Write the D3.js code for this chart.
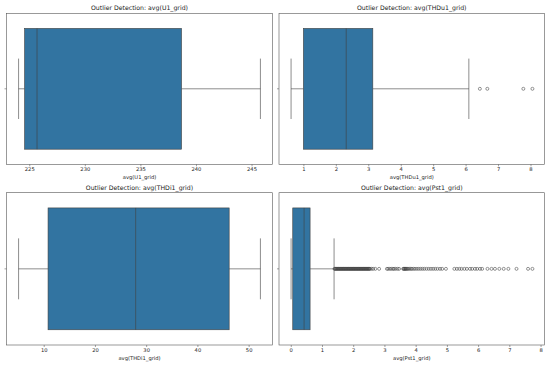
<!DOCTYPE html>
<html>
<head>
<meta charset="utf-8">
<script src="https://cdn.jsdelivr.net/npm/d3@7"></script>
<style>
  body { margin: 0; background: #fff; }
  text { font-family: "DejaVu Sans", sans-serif; fill: #222; }
</style>
</head>
<body>
<div id="chart"></div>
<script>
// box stats: [lowWhisker, q1, median, q3, highWhisker]
const titles = ["avg(U1_grid)", "avg(THDu1_grid)", "avg(THDi1_grid)", "avg(Pst1_grid)"];

const u1Stats = [224.04, 224.58, 225.7, 238.7, 245.8];
const thdu1Stats = [0.62, 1.0, 2.32, 3.14, 6.1];
const thdi1Stats = [5.1, 10.85, 27.95, 46.2, 52.3];
const pst1Stats = [0.01, 0.064, 0.427, 0.619, 1.387];

const u1Outliers = [];
const thdu1Outliers = [6.44, 6.67, 7.78, 8.06];
const thdi1Outliers = [];
const pst1Outliers = [
    1.40, 1.42, 1.44, 1.46, 1.48, 1.50, 1.52, 1.54, 1.56, 1.58, 1.60, 1.62, 1.64, 1.66, 1.68, 1.70,
    1.72, 1.74, 1.76, 1.78, 1.80, 1.82, 1.84, 1.86, 1.88, 1.90, 1.92, 1.94, 1.96, 1.98, 2.00, 2.02,
    2.04, 2.06, 2.08, 2.10, 2.12, 2.14, 2.16, 2.18, 2.20, 2.22, 2.24, 2.26, 2.28, 2.30, 2.32, 2.34,
    2.36, 2.38, 2.40, 2.42, 2.44, 2.46, 2.48, 2.50, 2.52, 2.54, 2.59, 2.64, 2.71, 2.83,
    3.08, 3.12, 3.17, 3.22, 3.27, 3.31, 3.36, 3.42, 3.47,
    3.60, 3.62, 3.64, 3.66, 3.68, 3.70, 3.73, 3.76, 3.80, 3.84, 3.88, 3.93, 3.98, 4.04, 4.10,
    4.16, 4.22, 4.28, 4.35, 4.42, 4.49, 4.56, 4.63, 4.70, 4.78, 4.85, 4.97,
    5.24, 5.32, 5.40, 5.47, 5.56, 5.64, 5.74, 5.81, 5.90, 5.97, 6.06, 6.13, 6.30, 6.43, 6.54,
    6.68, 6.82, 6.97, 7.23, 7.60, 7.74
];

const u1Ticks = [225, 230, 235, 240, 245];
const thdu1Ticks = [1, 2, 3, 4, 5, 6, 7, 8];
const thdi1Ticks = [10, 20, 30, 40, 50];
const pst1Ticks = [0, 1, 2, 3, 4, 5, 6, 7, 8];

const boxColor = "#3274a1";
const lineColor = "#3f3f3f";

const svg = d3.select("#chart")
    .append("svg")
    .attr("width", 550)
    .attr("height", 366);

// axes boxes in pixels
const cols = [[6.5, 272.5], [279, 544.5]];
const rows = [[13.3, 164.3], [192.7, 345]];

const panels = [
    { title: titles[0], stats: u1Stats, outliers: u1Outliers, ticks: u1Ticks, col: 0, row: 0 },
    { title: titles[1], stats: thdu1Stats, outliers: thdu1Outliers, ticks: thdu1Ticks, col: 1, row: 0 },
    { title: titles[2], stats: thdi1Stats, outliers: thdi1Outliers, ticks: thdi1Ticks, col: 0, row: 1 },
    { title: titles[3], stats: pst1Stats, outliers: pst1Outliers, ticks: pst1Ticks, col: 1, row: 1 }
];

panels.forEach(p => {
    const [x0, x1] = cols[p.col];
    const [y0, y1] = rows[p.row];
    const g = svg.append("g");

    const lo = d3.min([p.stats[0], ...p.outliers]);
    const hi = d3.max([p.stats[4], ...p.outliers]);
    const pad = (hi - lo) * 0.05;

    const x = d3.scaleLinear().domain([lo - pad, hi + pad]).range([x0, x1]);
    const y = d3.scaleLinear().domain([-0.5, 0.5]).range([y0, y1]);

    const [wLo, q1, med, q3, wHi] = p.stats;

    // whiskers
    g.append("line")
        .attr("x1", x(wLo)).attr("x2", x(q1))
        .attr("y1", y(0)).attr("y2", y(0))
        .attr("stroke", lineColor).attr("stroke-width", 0.6);
    g.append("line")
        .attr("x1", x(q3)).attr("x2", x(wHi))
        .attr("y1", y(0)).attr("y2", y(0))
        .attr("stroke", lineColor).attr("stroke-width", 0.6);
    [wLo, wHi].forEach(v => {
        g.append("line")
            .attr("x1", x(v)).attr("x2", x(v))
            .attr("y1", y(-0.2)).attr("y2", y(0.2))
            .attr("stroke", lineColor).attr("stroke-width", 0.6);
    });

    // box
    g.append("rect")
        .attr("x", x(q1))
        .attr("y", y(-0.4))
        .attr("width", x(q3) - x(q1))
        .attr("height", y(0.4) - y(-0.4))
        .attr("fill", boxColor)
        .attr("stroke", lineColor)
        .attr("stroke-width", 0.6);

    g.append("line")
        .attr("x1", x(med)).attr("x2", x(med))
        .attr("y1", y(-0.4)).attr("y2", y(0.4))
        .attr("stroke", lineColor).attr("stroke-width", 0.6);

    // fliers
    g.selectAll(".flier")
        .data(p.outliers)
        .enter().append("circle")
        .attr("class", "flier")
        .attr("cx", d => x(d))
        .attr("cy", y(0))
        .attr("r", 1.5)
        .attr("fill", "none")
        .attr("stroke", lineColor)
        .attr("stroke-width", 0.55);

    // x axis
    const ax = g.append("g")
        .attr("transform", `translate(0,${y1})`)
        .call(d3.axisBottom(x).tickValues(p.ticks).tickSize(2).tickPadding(1.5).tickFormat(d3.format("d")));
    ax.select(".domain").remove();
    ax.selectAll("line").attr("stroke", "#444").attr("stroke-width", 0.5);
    ax.selectAll("text").attr("font-size", 5.2).attr("fill", "#222")
        .attr("font-family", "DejaVu Sans");

    // y tick at the category center (no label)
    g.append("line")
        .attr("x1", x0 - 2).attr("x2", x0)
        .attr("y1", y(0)).attr("y2", y(0))
        .attr("stroke", "#444").attr("stroke-width", 0.5);

    // frame
    g.append("rect")
        .attr("x", x0).attr("y", y0)
        .attr("width", x1 - x0).attr("height", y1 - y0)
        .attr("fill", "none")
        .attr("stroke", "#555")
        .attr("stroke-width", 0.6);

    g.append("text")
        .attr("x", (x0 + x1) / 2)
        .attr("y", y0 - 3.2)
        .attr("text-anchor", "middle")
        .attr("font-size", 6.2)
        .text("Outlier Detection: " + p.title);

    g.append("text")
        .attr("x", (x0 + x1) / 2)
        .attr("y", y1 + 14.5)
        .attr("text-anchor", "middle")
        .attr("font-size", 5.2)
        .text(p.title);
});
</script>
</body>
</html>
